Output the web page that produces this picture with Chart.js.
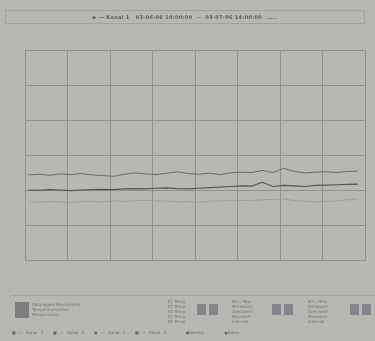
<!DOCTYPE html>
<html>
<head>
<meta charset="utf-8">
<script src="https://cdn.jsdelivr.net/npm/chart.js@4.4.0/dist/chart.umd.min.js"></script>
<style>
  body { margin: 0; background: #b9b7b4; font-family: "DejaVu Sans", sans-serif; }
  #wrap { position: relative; width: 375px; height: 341px; overflow: hidden; }
  #chart { position: absolute; left: 0; top: 0; }
  .head { position: absolute; left: 5px; top: 10px; width: 358px; height: 12px; border: 1px solid #a3a19d;
          font-size: 5px; font-weight: bold; color: #5e5c5b; text-align: center; line-height: 12px; letter-spacing: 0.3px; }
  .foot { position: absolute; left: 10px; top: 295px; width: 365px; height: 30px; border-top: 1px solid #a6a4a0; }
  .logo { position: absolute; left: 5px; top: 6px; width: 14px; height: 16px; background: #7f7e7e; }
  .ftxt { position: absolute; font-size: 4px; color: #74726f; line-height: 5px; }
  .icon { position: absolute; width: 9px; height: 11px; background: #85848a; }
  .legend { position: absolute; left: 12px; top: 330px; font-size: 4px; color: #6a6866; white-space: nowrap; word-spacing: 2px; }
</style>
</head>
<body>
<div id="wrap">
  <canvas id="chart" width="375" height="341"></canvas>
  <div class="head">&#9654; &mdash; Kanal 1 &nbsp; 03-06-06 14:00:00 &nbsp;--&nbsp; 03-07-06 14:00:00 &nbsp;.....</div>
  <div class="foot">
    <div class="logo"></div>
    <div class="ftxt" style="left:22px;top:6px;">Datalogger Messtechnik<br>Temperaturverlauf<br>Messprotokoll</div>
    <div class="ftxt" style="left:158px;top:3px;">K1 Temp<br>K2 Temp<br>K3 Temp<br>K4 Temp<br>K5 Temp</div>
    <div class="icon" style="left:187px;top:8px;"></div><div class="icon" style="left:199px;top:8px;"></div>
    <div class="ftxt" style="left:222px;top:3px;">Min / Max<br>Mittelwert<br>Grenzwert<br>Messwert<br>Intervall</div>
    <div class="icon" style="left:262px;top:8px;"></div><div class="icon" style="left:274px;top:8px;"></div>
    <div class="ftxt" style="left:298px;top:3px;">Min / Max<br>Mittelwert<br>Grenzwert<br>Messwert<br>Intervall</div>
    <div class="icon" style="left:340px;top:8px;"></div><div class="icon" style="left:352px;top:8px;"></div>
  </div>
  <div class="legend">&#9632; &mdash; Kanal 1 &nbsp; &#9632; &mdash; Kanal 2 &nbsp; &#9679; &mdash; Kanal 3 &nbsp; &#9632; &mdash; Kanal 4 &nbsp;&nbsp;&nbsp;&nbsp; &#9679;Kontakt &nbsp;&nbsp;&nbsp;&nbsp; &#9679;Alarm</div>
</div>
<script>
// hours since start of recording
const hours = [0.25, 1, 1.75, 2.5, 3.25, 4, 4.75, 5.5, 6.25, 7, 7.75, 8.5, 9.25, 10, 10.75, 11.5,
  12.25, 13, 13.75, 14.5, 15.25, 16, 16.75, 17.5, 18.25, 19, 19.75, 20.5, 21.25, 22, 22.75, 23.5];

const kanal1 = [24.3, 24.5, 24.2, 24.6, 24.4, 24.7, 24.3, 24.1, 23.9, 24.5, 24.9, 24.6, 24.4, 24.8, 25.2, 24.7,
  24.5, 24.8, 24.4, 24.9, 25.1, 25.0, 25.6, 25.0, 26.2, 25.3, 24.9, 25.1, 25.2, 25.0, 25.3, 25.4];
const kanal2 = [20.0, 19.9, 20.1, 20.0, 19.8, 20.0, 20.1, 20.2, 20.1, 20.3, 20.4, 20.3, 20.5, 20.6, 20.4, 20.3,
  20.5, 20.7, 20.8, 21.0, 21.2, 21.1, 22.2, 21.0, 21.3, 21.2, 21.0, 21.3, 21.4, 21.5, 21.6, 21.7];
const kanal3 = [16.6, 16.5, 16.7, 16.6, 16.4, 16.7, 16.8, 16.6, 16.9, 16.7, 17.0, 17.1, 16.9, 16.8, 16.6, 16.7,
  16.5, 16.8, 16.9, 17.0, 17.1, 16.9, 17.2, 17.3, 17.4, 17.0, 16.8, 16.6, 16.7, 16.9, 17.2, 17.4];

function toPoints(values) {
  return values.map((v, i) => ({ x: hours[i], y: v }));
}

const ctx = document.getElementById('chart').getContext('2d');
const chart = new Chart(ctx, {
  type: 'line',
  data: {
    datasets: [
      { label: 'Kanal 1', data: toPoints(kanal1), borderColor: '#6a6869', borderWidth: 1, pointRadius: 0, tension: 0 },
      { label: 'Kanal 2', data: toPoints(kanal2), borderColor: '#555354', borderWidth: 1.2, pointRadius: 0, tension: 0 },
      { label: 'Kanal 3', data: toPoints(kanal3), borderColor: '#9e9ca3', borderWidth: 1, pointRadius: 0, tension: 0 }
    ]
  },
  options: {
    responsive: false,
    animation: false,
    layout: { padding: { left: 25, right: 10, top: 50, bottom: 81 } },
    plugins: { legend: { display: false }, tooltip: { enabled: false } },
    scales: {
      x: {
        type: 'linear', min: 0, max: 24,
        ticks: { display: false, stepSize: 3 },
        grid: { color: '#92908d', lineWidth: 1, drawTicks: false },
        border: { color: '#92908d' }
      },
      y: {
        min: 0, max: 60,
        ticks: { display: false, stepSize: 10 },
        grid: { color: '#92908d', lineWidth: 1, drawTicks: false },
        border: { color: '#92908d' }
      }
    }
  }
});
</script>
</body>
</html>
